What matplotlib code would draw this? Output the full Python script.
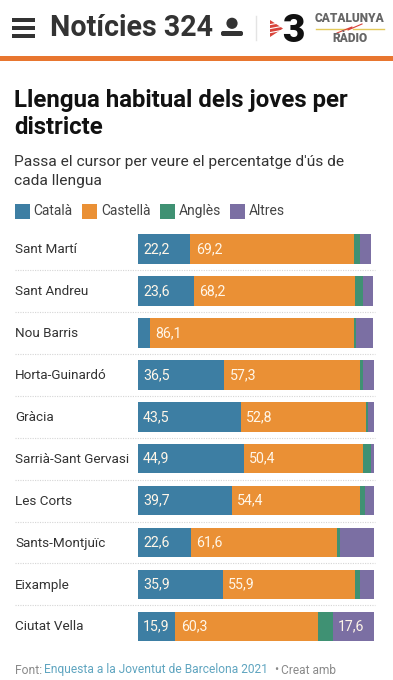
import matplotlib
matplotlib.use("Agg")
import matplotlib.pyplot as plt
from matplotlib.patches import Rectangle, Polygon, Circle, FancyBboxPatch

# values; Anglès/Altres have no labels so those are estimates
districts = ["Sant Martí", "Sant Andreu", "Nou Barris", "Horta-Guinardó", "Gràcia",
             "Sarrià-Sant Gervasi", "Les Corts", "Sants-Montjuïc", "Eixample", "Ciutat Vella"]
catala = [22.2, 23.6, 5.2, 36.5, 43.5, 44.9, 39.7, 22.6, 35.9, 15.9]
castella = [69.2, 68.2, 86.1, 57.3, 52.8, 50.4, 54.4, 61.6, 55.9, 60.3]
angles = [2.6, 3.5, 1.1, 1.4, 1.0, 3.2, 1.8, 1.4, 2.1, 6.2]
altres = [4.8, 4.1, 7.2, 4.8, 2.7, 1.5, 4.1, 14.2, 5.9, 17.6]
series_names = ["Català", "Castellà", "Anglès", "Altres"]
colors = ["#3d7ea3", "#ea9035", "#3f9173", "#7b6fa3"]
label_min = 15

W, H = 393, 680
plt.rcParams["font.family"] = ["Roboto", "DejaVu Sans"]

fig = plt.figure(figsize=(W / 100, H / 100), dpi=100)

# page layer in pixel coordinates, y pointing down
page = fig.add_axes([0, 0, 1, 1])
page.set_xlim(0, W)
page.set_ylim(H, 0)
page.axis("off")


def txt(x, y, s, size, color="#222222", **kw):
    kw.setdefault("va", "center")
    return page.text(x, y, s, fontsize=size, color=color, **kw)


# ---------- header ----------
for y0 in (20, 28, 36):
    page.add_patch(Rectangle((12, y0 - 1.7), 23, 3.4, color="#333333", lw=0))
txt(50, 28.5, "Notícies 324", 20.6, "#333333", fontweight="bold")
page.add_patch(Circle((232, 23.3), 5.6, color="#333333", lw=0))
page.add_patch(FancyBboxPatch((221, 31), 22, 5, boxstyle="round,pad=0,rounding_size=2",
                              color="#333333", lw=0))
page.plot([256, 256], [16, 40], color="#e4e4e4", lw=1)
# red 3cat arrow with white diagonal stripes
page.add_patch(Polygon([(270, 20), (283, 28.5), (270, 37)], color="#d8433a", lw=0))
for i in range(3):
    page.plot([268, 284], [25 + i * 4, 22 + i * 4], color="white", lw=0.8)
txt(293, 31, "3", 28, "#111111", ha="center", fontweight="black")
txt(349.5, 19, "CATALUNYA", 8.6, "#666666", ha="center", fontweight="black")
txt(349.5, 38, "RÀDIO", 8.6, "#666666", ha="center", fontweight="black")
page.plot([316, 347], [28.5, 28.5], color="#e3c95a", lw=1)
page.plot([353, 384], [28.5, 28.5], color="#e3c95a", lw=1)
page.plot([337, 352, 348, 362], [33, 27, 30, 24], color="#d8433a", lw=0.8)
page.add_patch(Rectangle((0, 56), W, 4.6, color="#e8762f", lw=0))

# ---------- titles ----------
txt(14, 100, "Llengua habitual dels joves per", 17.3, "#111111", fontweight="bold")
txt(14, 128, "districte", 17.3, "#111111", fontweight="bold")
txt(14, 162, "Passa el cursor per veure el percentatge d'ús de", 11.15, "#333333")
txt(14, 181.5, "cada llengua", 11.15, "#333333")

# ---------- legend ----------
for x0, tx, name, c in zip([14.5, 82, 160, 230], [33, 101, 179, 249], series_names, colors):
    page.add_patch(Rectangle((x0, 204), 15, 15, color=c, lw=0))
    txt(tx, 211, name, 10, "#444444")

# ---------- bars ----------
ax = fig.add_axes([137.7 / W, 1 - 647.25 / H, 236.6 / W, (647.25 - 228.25) / H])
ax.set_xlim(0, 100)
ax.set_ylim(len(districts) - 0.5, -0.5)
ax.axis("off")
ax.patch.set_alpha(0)

left = [0] * len(districts)
for vals, c in zip([catala, castella, angles, altres], colors):
    ax.barh(range(len(districts)), vals, left=left, height=0.705, color=c, lw=0)
    for i, v in enumerate(vals):
        if v >= label_min:
            ax.text(left[i] + 2.3, i, f"{v:.1f}".replace(".", ","), color="#fff6e8",
                    fontsize=10.2, va="center", ha="left")
    left = [a + b for a, b in zip(left, vals)]

for i, name in enumerate(districts):
    y = 249.2 + i * 41.9
    txt(15, y + 0.7, name, 9.7, "#333333")
    if i < len(districts) - 1:
        page.plot([15, 375], [y + 20.9, y + 20.9], color="#d5d5d5", lw=0.8, ls=(0, (1, 1.2)))

# ---------- footer ----------
txt(15, 670, "Font:", 8.7, "#8a8a8a")
txt(44, 670, "Enquesta a la Joventut de Barcelona 2021", 8.65, "#5fa5c0")
txt(274, 670, "•", 8.7, "#8a8a8a")
txt(281, 670, "Creat amb", 8.6, "#8a8a8a")

fig.savefig("out.png", dpi=100)
